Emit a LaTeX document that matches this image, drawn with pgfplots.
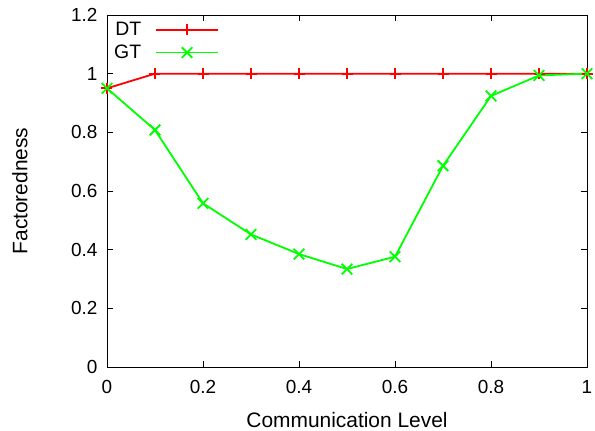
\documentclass[border=0pt]{standalone}
\usepackage{fontspec}
\setmainfont{Liberation Sans}
\usepackage{pgfplots}
\pgfplotsset{compat=1.18}

\begin{document}
\begin{tikzpicture}
\begin{axis}[
  name=ax,
  scale only axis,
  width=480bp, height=352bp,
  xmin=0, xmax=1, ymin=0, ymax=1.2,
  xtick={0,0.2,...,1}, ytick={0,0.2,...,1.2},
  xticklabels={0,0.2,0.4,0.6,0.8,1},
  yticklabels={0,0.2,0.4,0.6,0.8,1,1.2},
  tick align=inside, major tick length=6bp,
  /pgf/number format/assume math mode=true,
  tick label style={font=\fontsize{19}{22}\selectfont},
  xticklabel style={yshift=-10bp},
  yticklabel style={xshift=-6bp},
  xlabel={Communication Level}, ylabel={Factoredness},
  every axis x label/.style={at={(axis description cs:0.5,0)}, yshift=-53bp,
    anchor=center, font=\fontsize{21}{24}\selectfont},
  every axis y label/.style={at={(axis description cs:0,0.5)}, xshift=-87bp,
    rotate=90, anchor=center, font=\fontsize{21}{24}\selectfont},
  axis line style={line width=0.8pt},
  every tick/.style={black, line width=0.8pt},
  legend style={draw=none, fill=none, font=\fontsize{19.5}{22}\selectfont,
                at={(0,1)}, anchor=north west, xshift=2bp, yshift=-3bp,
                cells={anchor=east}, row sep=4bp,
                /tikz/every odd column/.append style={column sep=12bp}},
  legend plot pos=right,
  legend image code/.code={
    \draw[mark repeat=2, mark phase=2, #1] plot coordinates {(0bp,0bp) (31bp,0bp) (62bp,0bp)};
  },
]
\addplot[red, line width=1.8bp, mark=+, mark size=5.5bp] coordinates {
  (0,0.95) (0.1,1) (0.2,1) (0.3,1) (0.4,1) (0.5,1)
  (0.6,1) (0.7,1) (0.8,1) (0.9,1) (1,1)};
\addlegendentry{DT}
\addplot[green, line width=1.8bp, mark=x, mark size=7.5bp] coordinates {
  (0,0.95) (0.1,0.808) (0.2,0.558) (0.3,0.452) (0.4,0.385) (0.5,0.334)
  (0.6,0.376) (0.7,0.686) (0.8,0.924) (0.9,0.994) (1,1)};
\addlegendentry{GT}
\end{axis}
\pgfresetboundingbox
\path[use as bounding box] ([shift={(-107bp,-64bp)}]ax.south west) rectangle ([shift={(8bp,15bp)}]ax.north east);
\end{tikzpicture}
\end{document}
